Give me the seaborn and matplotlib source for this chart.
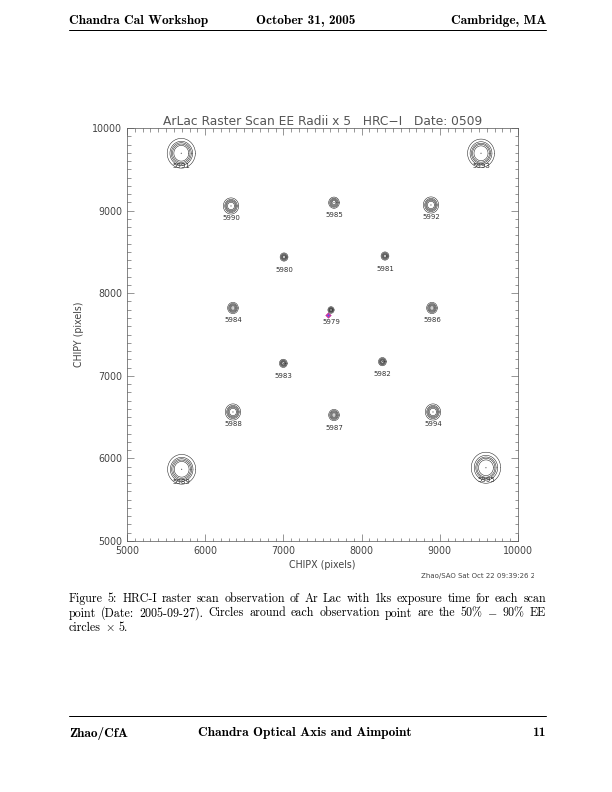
import numpy as np
import pandas as pd
import matplotlib
matplotlib.use("Agg")
import matplotlib.pyplot as plt
import seaborn as sns
from matplotlib.ticker import MultipleLocator, FixedLocator
from matplotlib.transforms import Bbox

# ---------------- data ----------------
obsid = [5991, 5990, 5985, 5992, 5993, 5980, 5981, 5984, 5979,
         5986, 5983, 5982, 5988, 5987, 5994, 5989, 5995]
chipx = [5694, 6330, 7647, 8887, 9527, 7008, 8299, 6355, 7609,
         8900, 6999, 8266, 6355, 7647, 8913, 5699, 9590]
chipy = [9694, 9056, 9096, 9068, 9694, 8438, 8450, 7821, 7797,
         7821, 7151, 7171, 6562, 6525, 6562, 5868, 5887]
# encircled-energy radii x 5 (CHIP pixels)
ee50 = [95, 45, 25, 45, 90, 18, 18, 25, 14, 25, 18, 18, 45, 25, 45, 95, 95]
ee60 = [112, 58, 35, 58, 108, 25, 25, 35, 20, 35, 25, 25, 58, 35, 58, 112, 115]
ee70 = [128, 68, 45, 68, 122, 32, 32, 45, 25, 45, 32, 32, 68, 45, 68, 128, 130]
ee80 = [145, 80, 55, 80, 140, 40, 40, 55, 31, 55, 40, 40, 80, 55, 80, 145, 150]
ee90 = [180, 98, 68, 98, 172, 50, 50, 68, 40, 68, 50, 50, 98, 68, 98, 180, 188]
aim_x = [7566]
aim_y = [7736]
x_ticks = [5000, 6000, 7000, 8000, 9000, 10000]
y_ticks = [5000, 6000, 7000, 8000, 9000, 10000]

title = "ArLac Raster Scan EE Radii x 5   HRC\u2212I   Date: 0509"
stamp = "Zhao/SAO Sat Oct 22 09:39:26 2005"
header = ["Chandra Cal Workshop", "October 31, 2005", "Cambridge, MA"]
footer = ["Zhao/CfA", "Chandra Optical Axis and Aimpoint", "11"]
caption = [
    "Figure 5: HRC-I raster scan observation of Ar Lac with 1ks exposure time for each scan",
    "point (Date: 2005-09-27). Circles around each observation point are the 50% $-$ 90% EE",
    "circles $\\times$ 5.",
]

# ---------------- style ----------------
sns.set_theme(style="white")
plt.rcParams["font.family"] = ["DejaVu Sans"]
plt.rcParams["mathtext.fontset"] = "cm"
plt.rcParams["axes.unicode_minus"] = False

W, H = 612, 792
fig = plt.figure(figsize=(W / 72, H / 72), dpi=72)
fig.patch.set_facecolor("white")


def fx(x):
    return x / W


def fy(y):
    return 1 - y / H


ax = fig.add_axes([fx(127), fy(541), 391 / W, 413 / H])
ax.set_facecolor("white")

# rings
theta = np.linspace(0, 2 * np.pi, 241)
rows = []
for i, o in enumerate(obsid):
    for k, r in enumerate([ee50[i], ee60[i], ee70[i], ee80[i], ee90[i]]):
        for t in theta:
            rows.append(dict(x=chipx[i] + r * np.cos(t),
                             y=chipy[i] + r * np.sin(t),
                             ring=f"{o}_{k}"))
ring_df = pd.DataFrame(rows)
sns.lineplot(data=ring_df, x="x", y="y", units="ring", estimator=None,
             sort=False, color="#1a1a1a", lw=0.5, ax=ax, legend=False)

pts = pd.DataFrame(dict(obsid=obsid, chipx=chipx, chipy=chipy))
sns.scatterplot(data=pts, x="chipx", y="chipy", s=1.2, color="#333333",
                edgecolor="none", ax=ax, legend=False)
sns.scatterplot(x=aim_x, y=aim_y, marker="D", s=16, color="#e0309a",
                edgecolor="#c02080", linewidth=0.4, ax=ax, legend=False)
sns.scatterplot(x=aim_x, y=aim_y, marker="+", s=12, color="#4060ff",
                linewidth=0.5, ax=ax, legend=False)

for o, x, y in zip(obsid, chipx, chipy):
    ax.annotate(str(o), (x, y), xytext=(0, -12.5), textcoords="offset points",
                ha="center", va="center", fontsize=7, color="#333333")

ax.set_xlim(x_ticks[0], x_ticks[-1])
ax.set_ylim(y_ticks[0], y_ticks[-1])
ax.xaxis.set_major_locator(FixedLocator(x_ticks))
ax.yaxis.set_major_locator(FixedLocator(y_ticks))
ax.set_xticklabels([str(t) for t in x_ticks])
ax.set_yticklabels([str(t) for t in y_ticks])
ax.xaxis.set_minor_locator(MultipleLocator(100))
ax.yaxis.set_minor_locator(MultipleLocator(100))
ax.tick_params(which="both", direction="in", top=True, right=True,
               bottom=True, left=True, color="#555555", width=0.6,
               labelcolor="#444444", labelsize=9.5)
ax.tick_params(which="major", length=7, pad=5)
ax.tick_params(which="minor", length=3.5)
for s in ax.spines.values():
    s.set_color("#555555")
    s.set_linewidth(0.7)
ax.set_xlabel("CHIPX (pixels)", fontsize=9.5, color="#444444", labelpad=4)
ax.set_ylabel("CHIPY (pixels)", fontsize=9.5, color="#444444", labelpad=8)
ax.set_title(title, fontsize=12.3, color="#555555", pad=3)

# IDL stamp, clipped by the page image boundary
st = fig.text(fx(421), fy(576), stamp, fontsize=7, color="#444444",
              ha="left", va="center")
st.set_clip_box(Bbox([[0, 0], [534, H]]))
st.set_clip_on(True)

# ---------------- page header / footer ----------------
hf = dict(family=["cmb10"], fontsize=13.3, color="black")
fig.text(fx(69), fy(21), header[0], ha="left", va="center", **hf)
fig.text(fx(306), fy(21), header[1], ha="center", va="center", **hf)
fig.text(fx(546), fy(21), header[2], ha="right", va="center", **hf)
fig.add_artist(plt.Line2D([fx(69), fx(546)], [fy(30), fy(30)],
                          color="black", lw=1.0))
fig.add_artist(plt.Line2D([fx(69), fx(546)], [fy(716), fy(716)],
                          color="black", lw=1.0))
fig.text(fx(69), fy(733), footer[0], ha="left", va="center", **hf)
fig.text(fx(198), fy(733), footer[1], ha="left", va="center", **hf)
fig.text(fx(546), fy(733), footer[2], ha="right", va="center", **hf)

# ---------------- caption (justified) ----------------
renderer = fig.canvas.get_renderer()
cf = dict(family=["cmr10"], fontsize=12, color="black")


def justified(line, x0, x1, y, justify=True):
    words = line.split(" ")
    texts = [fig.text(0, fy(y), w, ha="left", va="baseline", **cf) for w in words]
    widths = [t.get_window_extent(renderer).width for t in texts]
    if justify and len(words) > 1:
        gap = (x1 - x0 - sum(widths)) / (len(words) - 1)
    else:
        gap = 4.0
    x = x0
    for t, w in zip(texts, widths):
        t.set_x(fx(x))
        x += w + gap


justified(caption[0], 69, 546, 602)
justified(caption[1], 69, 546, 616.5)
justified(caption[2], 69, 546, 631, justify=False)

fig.savefig("out.png", dpi=72, facecolor="white")
